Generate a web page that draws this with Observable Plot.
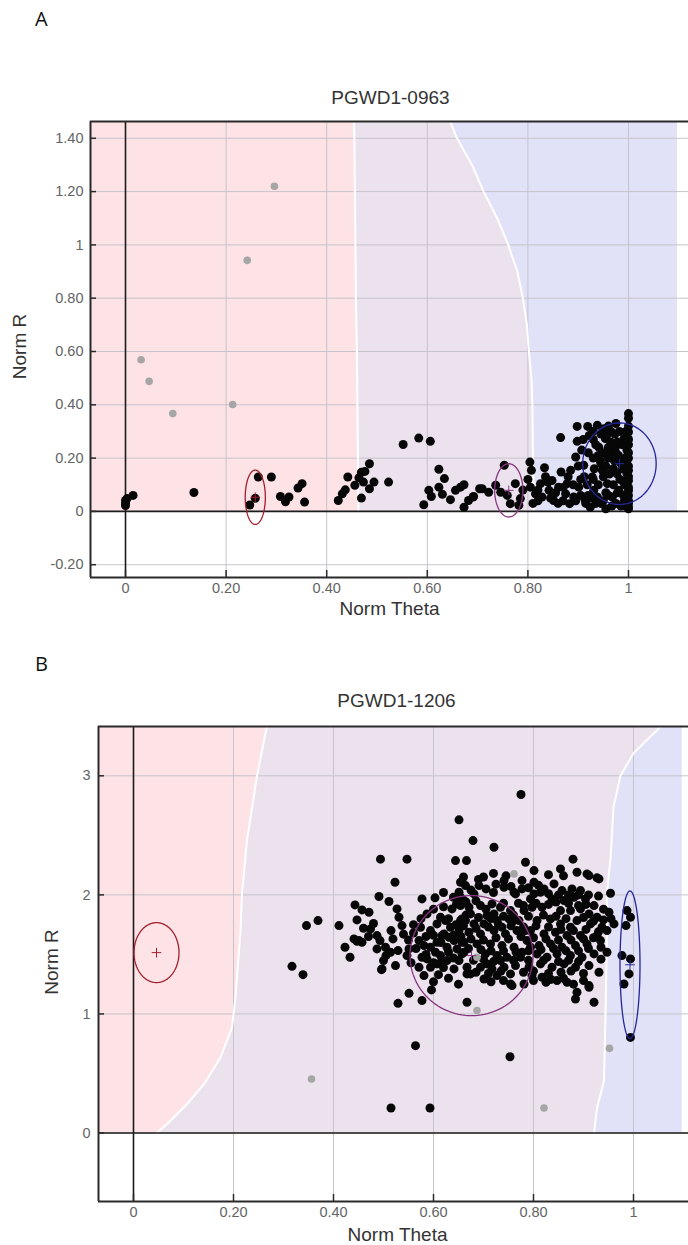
<!DOCTYPE html>
<html>
<head>
<meta charset="utf-8">
<script src="https://cdn.jsdelivr.net/npm/d3@7"></script>
<script src="https://cdn.jsdelivr.net/npm/@observablehq/plot@0.6"></script>
<style>
  body { margin: 0; background: #fff; }
  #page { position: relative; width: 688px; height: 1245px; overflow: hidden; background: #fff; }
  .panel-tag { position: absolute; font-family: "Open Sans", "Noto Sans", sans-serif; font-size: 20px; line-height: 20px; color: #111; }
  .chart { position: absolute; left: 0; }
</style>
</head>
<body>
<div id="page">
  <div class="panel-tag" style="left:35px; top:9px;">A</div>
  <div class="panel-tag" style="left:35px; top:654px;">B</div>
  <div id="chartA" class="chart" style="top:70px;"></div>
  <div id="chartB" class="chart" style="top:680px;"></div>
</div>
<script>
// ---------- shared axis ticks ----------
const xTickValues = [0, 0.2, 0.4, 0.6, 0.8, 1];
const xTickLabels = ["0", "0.20", "0.40", "0.60", "0.80", "1"];

// ---------- SNP PGWD1-0963 ----------
const titleA = "PGWD1-0963";
const yTickValuesA = [-0.2, 0, 0.2, 0.4, 0.6, 0.8, 1, 1.2, 1.4];
const yTickLabelsA = ["-0.20", "0", "0.20", "0.40", "0.60", "0.80", "1", "1.20", "1.40"];

// called samples [Norm Theta, Norm R]
const callsA = [
  [0, 0.029], [0, 0.041], [0.003, 0.048], [0.015, 0.06], [0, 0.022], [0.136, 0.071],
  [0.247, 0.024], [0.258, 0.049], [0.264, 0.129], [0.29, 0.129], [0.308, 0.056], [0.318, 0.036],
  [0.325, 0.054], [0.343, 0.088], [0.351, 0.104], [0.356, 0.035], [0.423, 0.041], [0.431, 0.066],
  [0.437, 0.081], [0.442, 0.129], [0.456, 0.098], [0.464, 0.126], [0.469, 0.147], [0.476, 0.15],
  [0.485, 0.179], [0.473, 0.11], [0.485, 0.085], [0.494, 0.11], [0.469, 0.05], [0.523, 0.11],
  [0.552, 0.251], [0.583, 0.275], [0.606, 0.263], [0.623, 0.158], [0.634, 0.123], [0.603, 0.079],
  [0.608, 0.056], [0.593, 0.025], [0.623, 0.091], [0.63, 0.064], [0.646, 0.044], [0.656, 0.079],
  [0.666, 0.091], [0.673, 0.1], [0.692, 0.056], [0.682, 0.041], [0.673, 0.016], [0.704, 0.085],
  [0.691, 0.054], [0.709, 0.085], [0.722, 0.072], [0.736, 0.098], [0.753, 0.173], [0.746, 0.072],
  [0.759, 0.06], [0.765, 0.029], [0.775, 0.104], [0.785, 0.048], [0.782, 0.023], [0.804, 0.185],
  [0.807, 0.154], [0.805, 0.091], [0.815, 0.066], [0.825, 0.104], [0.833, 0.164], [0.828, 0.054],
  [0.842, 0.079], [0.848, 0.116], [0.851, 0.041], [0.865, 0.277], [0.866, 0.148], [0.861, 0.091],
  [0.875, 0.066], [0.878, 0.104], [0.885, 0.154], [0.883, 0.029], [0.891, 0.054], [0.895, 0.204],
  [0.898, 0.319], [0.898, 0.263], [0.901, 0.091], [0.911, 0.173], [0.914, 0.041], [0.919, 0.319],
  [0.922, 0.285], [0.928, 0.129], [0.931, 0.079], [0.924, 0.016], [0.938, 0.323], [0.941, 0.241],
  [0.944, 0.191], [0.948, 0.154], [0.938, 0.054], [0.951, 0.31], [0.954, 0.273], [0.958, 0.104],
  [0.964, 0.217], [0.968, 0.054], [0.974, 0.241], [0.977, 0.141], [0.981, 0.079], [0.987, 0.191],
  [0.991, 0.273], [0.992, 0.041], [0.997, 0.229], [1, 0.367], [1, 0.298], [1, 0.154],
  [1, 0.079], [1, 0.016], [1, 0.116], [1, 0.2], [1, 0.25], [1, 0.04],
  [0.93, 0.2], [0.935, 0.25], [0.94, 0.1], [0.945, 0.03], [0.95, 0.22], [0.955, 0.17],
  [0.96, 0.06], [0.962, 0.14], [0.965, 0.3], [0.97, 0.1], [0.972, 0.19], [0.975, 0.03],
  [0.978, 0.26], [0.98, 0.21], [0.983, 0.12], [0.985, 0.02], [0.988, 0.16], [0.99, 0.06],
  [0.993, 0.1], [0.995, 0.3], [1, 0.01], [1, 0.03], [1, 0.06], [1, 0.09], [1, 0.13],
  [1, 0.17], [1, 0.22], [1, 0.27], [1, 0.32], [0.998, 0.05], [0.996, 0.18], [0.925, 0.05],
  [0.932, 0.16], [0.918, 0.1], [0.912, 0.13], [0.905, 0.06], [0.955, 0.01], [0.96, 0.24],
  [0.945, 0.29], [0.929, 0.3], [0.907, 0.23], [0.87, 0.04], [0.855, 0.07], [0.84, 0.11],
  [0.82, 0.08], [0.81, 0.03], [0.79, 0.08], [0.8, 0.12],
  [0.93, 0.27], [0.94, 0.21], [0.95, 0.13], [0.955, 0.07], [0.96, 0.2], [0.965, 0.26],
  [0.97, 0.16], [0.975, 0.22], [0.978, 0.07], [0.982, 0.3], [0.985, 0.18], [0.988, 0.25],
  [0.99, 0.11], [0.993, 0.2], [0.995, 0.02], [0.997, 0.14], [0.999, 0.27], [1, 0.35],
  [0.93, 0.12], [0.935, 0.03], [0.945, 0.18], [0.95, 0.04], [0.958, 0.29], [0.967, 0.02],
  [0.973, 0.29], [0.92, 0.22], [0.91, 0.27], [0.915, 0.03], [0.92, 0.06], [0.905, 0.12],
  [0.895, 0.04], [0.89, 0.1], [0.88, 0.13], [0.87, 0.09], [0.86, 0.03], [0.845, 0.05],
  [0.835, 0.13], [0.82, 0.04], [0.9, 0.17], [0.96, 0.32], [0.975, 0.33]
];
// no-call samples
const noCallsA = [[0.296, 1.22], [0.242, 0.942], [0.031, 0.569], [0.047, 0.488], [0.094, 0.367], [0.213, 0.401]];
// cluster ellipses (AA, AB, BB)
const clustersA = [
  {cx: 0.258, cy: 0.053, rx: 0.02, ry: 0.102, color: "#a3202e"},
  {cx: 0.762, cy: 0.079, rx: 0.028, ry: 0.1, color: "#86357f"},
  {cx: 0.982, cy: 0.179, rx: 0.073, ry: 0.153, color: "#26269a"}
];
// genotype region boundaries [theta, R]
const aaEdgeA = [[0.463, 0], [0.462, 0.2], [0.461, 0.4], [0.46, 0.6], [0.458, 0.8], [0.457, 1.0], [0.456, 1.2], [0.455, 1.4], [0.454, 1.47]];
const bbEdgeA = [[0.812, 0], [0.81, 0.2], [0.809, 0.4], [0.807, 0.5], [0.802, 0.6], [0.798, 0.7], [0.79, 0.8], [0.779, 0.9],
  [0.761, 1.0], [0.739, 1.1], [0.712, 1.2], [0.689, 1.3], [0.659, 1.4], [0.644, 1.47]];

// ---------- SNP PGWD1-1206 ----------
const titleB = "PGWD1-1206";
const yTickValuesB = [0, 1, 2, 3];
const yTickLabelsB = ["0", "1", "2", "3"];

const callsB = [
  [0.775, 2.843], [0.651, 2.63], [0.679, 2.456], [0.721, 2.4], [0.494, 2.3], [0.547, 2.3],
  [0.644, 2.288], [0.666, 2.288], [0.523, 2.106], [0.491, 1.986], [0.511, 1.944], [0.577, 1.966],
  [0.603, 1.975], [0.784, 2.274], [0.879, 2.3], [0.854, 2.218], [0.887, 2.19], [0.907, 2.176],
  [0.927, 2.143], [0.954, 2.014], [0.801, 2.204], [0.741, 2.12], [0.777, 2.12],
  [0.443, 1.916], [0.457, 1.874], [0.471, 1.854], [0.447, 1.79], [0.527, 1.882], [0.531, 1.812],
  [0.537, 1.742], [0.346, 1.742], [0.369, 1.784], [0.411, 1.742], [0.474, 1.714], [0.487, 1.658],
  [0.493, 1.616], [0.441, 1.63], [0.447, 1.61], [0.457, 1.602], [0.423, 1.56], [0.433, 1.476],
  [0.487, 1.546], [0.504, 1.56], [0.519, 1.63], [0.514, 1.518], [0.529, 1.532], [0.5, 1.448],
  [0.524, 1.406], [0.496, 1.372], [0.317, 1.4], [0.339, 1.33], [0.551, 1.546], [0.547, 1.49],
  [0.587, 1.84], [0.574, 1.728], [0.571, 1.616], [0.581, 1.574], [0.577, 1.476], [0.571, 1.392],
  [0.581, 1.322], [0.551, 1.173], [0.529, 1.089], [0.577, 1.112], [0.596, 1.202], [0.564, 0.734],
  [0.614, 1.812], [0.624, 1.784], [0.634, 1.728], [0.637, 1.882], [0.646, 1.924], [0.654, 2.106],
  [0.651, 2.022], [0.661, 1.952], [0.621, 1.672], [0.607, 1.602], [0.594, 1.56], [0.604, 1.518],
  [0.614, 1.49], [0.627, 1.56], [0.641, 1.616], [0.647, 1.546], [0.627, 1.448], [0.641, 1.378],
  [0.617, 1.448], [0.661, 1.518], [0.664, 1.784], [0.667, 1.336], [0.667, 1.098],
  [0.594, 1.7], [0.607, 1.756], [0.617, 1.658], [0.631, 1.644], [0.651, 1.7], [0.657, 1.602],
  [0.651, 1.448], [0.607, 1.42], [0.587, 1.462], [0.594, 1.392],
  [0.911, 2.162], [0.931, 2.134], [0.801, 2.106], [0.741, 2.064], [0.777, 2.05], [0.821, 2.05],
  [0.841, 2.092], [0.857, 2.036], [0.877, 2.05], [0.894, 2.036], [0.664, 2.078], [0.691, 2.078],
  [0.681, 2.008], [0.654, 1.98], [0.764, 2.008], [0.794, 1.966], [0.814, 2.022], [0.837, 1.966],
  [0.861, 1.952], [0.881, 1.98], [0.904, 1.966], [0.921, 1.91], [0.654, 1.91], [0.671, 1.896],
  [0.694, 1.91], [0.717, 1.924], [0.734, 1.896], [0.754, 1.868], [0.797, 1.896], [0.817, 1.896],
  [0.854, 1.868], [0.874, 1.868], [0.894, 1.882], [0.911, 1.84], [0.927, 1.812], [0.951, 1.854],
  [0.961, 1.756], [0.937, 1.728], [0.657, 1.798], [0.681, 1.756], [0.707, 1.826], [0.727, 1.784],
  [0.751, 1.798], [0.771, 1.784], [0.807, 1.784], [0.834, 1.798], [0.854, 1.756], [0.874, 1.728],
  [0.887, 1.784], [0.914, 1.756], [0.671, 1.686], [0.694, 1.672], [0.721, 1.7], [0.744, 1.672],
  [0.767, 1.7], [0.794, 1.7], [0.821, 1.672], [0.844, 1.686], [0.867, 1.658], [0.894, 1.658],
  [0.927, 1.658], [0.947, 1.7], [0.661, 1.602], [0.687, 1.588], [0.714, 1.588], [0.737, 1.574],
  [0.761, 1.56], [0.787, 1.616], [0.811, 1.574], [0.834, 1.588], [0.857, 1.56], [0.884, 1.574],
  [0.907, 1.588], [0.934, 1.616], [0.704, 1.504], [0.727, 1.49], [0.747, 1.476], [0.774, 1.476],
  [0.807, 1.504], [0.827, 1.476], [0.847, 1.504], [0.874, 1.49], [0.897, 1.476], [0.921, 1.504],
  [0.947, 1.518], [0.657, 1.504], [0.667, 1.392], [0.694, 1.392], [0.717, 1.378], [0.741, 1.392],
  [0.764, 1.406], [0.814, 1.42], [0.837, 1.392], [0.861, 1.42], [0.884, 1.392], [0.911, 1.406],
  [0.931, 1.35], [0.674, 1.336], [0.701, 1.294], [0.727, 1.322], [0.817, 1.308], [0.825, 1.266],
  [0.847, 1.28], [0.867, 1.266], [0.754, 1.252], [0.781, 1.252], [0.887, 1.182], [0.884, 1.126],
  [0.911, 1.238], [0.921, 1.098],
  [0.987, 1.868], [0.994, 1.812], [0.985, 1.742], [0.977, 1.49], [0.994, 1.462], [0.991, 1.336],
  [0.981, 1.252], [0.994, 0.803],
  [0.753, 0.641], [0.515, 0.21], [0.593, 0.21],
  [0.451, 1.616], [0.497, 1.378], [0.757, 1.238], [0.911, 1.224],
  [0.654, 1.784], [0.674, 1.84], [0.701, 1.756], [0.721, 1.84], [0.737, 1.728], [0.761, 1.784],
  [0.781, 1.868], [0.784, 1.7], [0.734, 1.448], [0.707, 1.42], [0.754, 1.336], [0.791, 1.392],
  [0.797, 1.322], [0.777, 1.518], [0.794, 1.56], [0.761, 2.022], [0.801, 2.008],
  [0.7, 2.15], [0.72, 2.18], [0.745, 2.16], [0.83, 2.17], [0.86, 2.16], [0.69, 2.13],
  [0.705, 2.05], [0.725, 2.09], [0.755, 2.07], [0.79, 2.06], [0.81, 2.08], [0.83, 2.01],
  [0.85, 2.0], [0.87, 2.0], [0.89, 2.0], [0.91, 2.0], [0.93, 1.99], [0.72, 2.02], [0.675, 2.04],
  [0.665, 1.94], [0.685, 1.95], [0.705, 1.88], [0.74, 1.93], [0.77, 1.93], [0.78, 1.91],
  [0.805, 1.93], [0.83, 1.92], [0.845, 1.94], [0.87, 1.93], [0.89, 1.91], [0.905, 1.92], [0.94, 1.88],
  [0.665, 1.83], [0.69, 1.81], [0.715, 1.8], [0.74, 1.82], [0.76, 1.83], [0.79, 1.82],
  [0.82, 1.83], [0.845, 1.82], [0.865, 1.8], [0.9, 1.81], [0.92, 1.78], [0.94, 1.79], [0.955, 1.8],
  [0.66, 1.74], [0.685, 1.72], [0.71, 1.73], [0.73, 1.75], [0.755, 1.74], [0.78, 1.73],
  [0.805, 1.74], [0.83, 1.73], [0.855, 1.71], [0.88, 1.7], [0.905, 1.71], [0.93, 1.69],
  [0.675, 1.63], [0.7, 1.62], [0.725, 1.64], [0.75, 1.63], [0.775, 1.65], [0.8, 1.64],
  [0.825, 1.63], [0.85, 1.62], [0.875, 1.62], [0.9, 1.63], [0.92, 1.64],
  [0.67, 1.55], [0.695, 1.54], [0.715, 1.53], [0.74, 1.53], [0.765, 1.52], [0.79, 1.53],
  [0.815, 1.54], [0.84, 1.55], [0.865, 1.53], [0.89, 1.53], [0.91, 1.55], [0.935, 1.56],
  [0.68, 1.45], [0.7, 1.46], [0.72, 1.44], [0.76, 1.45], [0.79, 1.45], [0.82, 1.45],
  [0.85, 1.44], [0.87, 1.45], [0.89, 1.44], [0.935, 1.46],
  [0.685, 1.35], [0.71, 1.34], [0.735, 1.36], [0.78, 1.35], [0.8, 1.36], [0.83, 1.34],
  [0.855, 1.35], [0.875, 1.36], [0.9, 1.34],
  [0.715, 1.27], [0.74, 1.28], [0.8, 1.28], [0.835, 1.29], [0.86, 1.3], [0.88, 1.25], [0.9, 1.28],
  [0.55, 1.62], [0.56, 1.68], [0.565, 1.55], [0.555, 1.43], [0.585, 1.65], [0.6, 1.66],
  [0.615, 1.6], [0.63, 1.52], [0.64, 1.47], [0.62, 1.39], [0.6, 1.43], [0.585, 1.5],
  [0.56, 1.75], [0.575, 1.8], [0.6, 1.88], [0.62, 1.9], [0.63, 1.8], [0.645, 1.75],
  [0.64, 1.66], [0.655, 1.65], [0.61, 1.33], [0.63, 1.3], [0.65, 1.25], [0.6, 1.27],
  [0.505, 1.49], [0.47, 1.65], [0.48, 1.76], [0.54, 1.67], [0.515, 1.7], [0.46, 1.72],
  [0.64, 1.98], [0.62, 2.02], [0.66, 2.15]
];
const noCallsB = [[0.761, 2.176], [0.687, 1.476], [0.687, 1.028], [0.821, 0.21], [0.952, 0.711], [0.356, 0.454]];
const clustersB = [
  {cx: 0.046, cy: 1.515, rx: 0.045, ry: 0.252, color: "#a3202e"},
  {cx: 0.676, cy: 1.49, rx: 0.123, ry: 0.504, color: "#86357f"},
  {cx: 0.993, cy: 1.413, rx: 0.02, ry: 0.62, color: "#26269a"}
];
const aaEdgeB = [[0.047, 0], [0.067, 0.076], [0.107, 0.244], [0.141, 0.41], [0.174, 0.635], [0.197, 0.887],
  [0.204, 1.14], [0.214, 1.7], [0.217, 2.02], [0.227, 2.46], [0.247, 3.0], [0.267, 3.42]];
const bbEdgeB = [[0.921, 0], [0.927, 0.21], [0.941, 0.44], [0.944, 1.0], [0.947, 1.7], [0.947, 2.03],
  [0.954, 2.3], [0.96, 2.74], [0.974, 3.0], [1.0, 3.19], [1.056, 3.42]];

// ---------- drawing ----------
const FONT = "'Liberation Sans', Arial, sans-serif";
const AA_FILL = "#fde2e6", AB_FILL = "#ece2ee", BB_FILL = "#e1e1f8";
const GRID = "#c6c4ca", INK = "#1c1c1c";

function clusterPlot(cfg) {
  const {width, height, marginTop, marginBottom, marginLeft, xDomain, yDomain, regionRight,
    yTickValues, yTickLabels, tickPadY} = cfg;
  const plotW = width - marginLeft;
  const plotH = height - marginTop - marginBottom;
  const xPerPx = (xDomain[1] - xDomain[0]) / plotW;
  const yPerPx = (yDomain[1] - yDomain[0]) / plotH;

  const aaEdge = cfg.aaEdge.map(([x, y]) => ({x, y, left: xDomain[0]}));
  const bbEdge = cfg.bbEdge.map(([x, y]) => ({x, y, right: regionRight}));
  const plane = [{x1: xDomain[0], x2: regionRight, y1: 0, y2: yDomain[1]}];

  const ellipseMarks = cfg.clusters.flatMap((c) => {
    const ring = d3.range(0, 361, 3).map((a) => ({
      x: c.cx + c.rx * Math.cos((a * Math.PI) / 180),
      y: c.cy + c.ry * Math.sin((a * Math.PI) / 180)
    }));
    return [
      Plot.line(ring, {x: "x", y: "y", stroke: c.color, strokeWidth: 1.3}),
      Plot.dot([c], {x: "cx", y: "cy", symbol: "plus", r: 3.2, stroke: c.color, strokeWidth: 1, fill: "none"})
    ];
  });

  return Plot.plot({
    width, height, marginTop, marginBottom, marginLeft, marginRight: 0,
    x: {domain: xDomain},
    y: {domain: yDomain},
    style: {fontFamily: FONT, fontSize: "14.5px", background: "transparent", overflow: "visible"},
    marks: [
      // genotype regions
      Plot.rect(plane, {x1: "x1", x2: "x2", y1: "y1", y2: "y2", fill: AB_FILL}),
      Plot.areaX(aaEdge, {y: "y", x1: "left", x2: "x", fill: AA_FILL, clip: true}),
      Plot.areaX(bbEdge, {y: "y", x1: "x", x2: "right", fill: BB_FILL, clip: true}),
      // grid
      Plot.ruleX(xTickValues, {stroke: GRID, strokeWidth: 1}),
      Plot.ruleY(yTickValues, {stroke: GRID, strokeWidth: 1}),
      // region borders
      Plot.line(aaEdge, {x: "x", y: "y", stroke: "#fff", strokeWidth: 2, clip: true}),
      Plot.line(bbEdge, {x: "x", y: "y", stroke: "#fff", strokeWidth: 2, clip: true}),
      // zero axes
      Plot.ruleX([0], {stroke: INK, strokeWidth: 1.6}),
      Plot.ruleY([0], {stroke: INK, strokeWidth: 1.6}),
      // frame (top, bottom, left)
      Plot.ruleY([yDomain[1], yDomain[0]], {stroke: "#2a2a2a", strokeWidth: 2}),
      Plot.ruleX([xDomain[0]], {stroke: "#2a2a2a", strokeWidth: 2}),
      // inward tick marks
      Plot.ruleX(xTickValues, {y1: yDomain[0], y2: yDomain[0] + 7 * yPerPx, stroke: "#2a2a2a", strokeWidth: 1.5}),
      Plot.ruleY(yTickValues, {x1: xDomain[0], x2: xDomain[0] + 6 * xPerPx, stroke: "#2a2a2a", strokeWidth: 1.5}),
      // samples
      Plot.dot(cfg.calls, {x: (d) => d[0], y: (d) => d[1], r: 4.5, fill: "#070707"}),
      Plot.dot(cfg.noCalls, {x: (d) => d[0], y: (d) => d[1], r: 3.8, fill: "#a6a6a6"}),
      ...ellipseMarks,
      // tick labels
      Plot.axisX({ticks: xTickValues, tickFormat: (d) => xTickLabels[xTickValues.indexOf(d)],
        tickSize: 0, tickPadding: 5, label: null, fontSize: 14.5, color: "#646464"}),
      Plot.axisY({ticks: yTickValues, tickFormat: (d) => yTickLabels[yTickValues.indexOf(d)],
        tickSize: 0, tickPadding: tickPadY, label: null, fontSize: 14.5, color: "#646464"}),
      // titles
      Plot.text([cfg.title], {text: (d) => d, frameAnchor: "top", dx: cfg.titleDx, dy: cfg.titleDy,
        lineAnchor: "middle", fontSize: 19, fill: "#333"}),
      Plot.text(["Norm Theta"], {text: (d) => d, frameAnchor: "bottom", dx: cfg.xLabelDx, dy: cfg.xLabelDy,
        lineAnchor: "middle", fontSize: 19, fill: "#333"}),
      Plot.text(["Norm R"], {text: (d) => d, frameAnchor: "left", rotate: -90, dx: cfg.yLabelDx, dy: cfg.yLabelDy,
        lineAnchor: "middle", textAnchor: "middle", fontSize: 19, fill: "#333"})
    ]
  });
}

document.getElementById("chartA").append(clusterPlot({
  title: titleA, calls: callsA, noCalls: noCallsA, clusters: clustersA,
  aaEdge: aaEdgeA, bbEdge: bbEdgeA,
  width: 688, height: 560, marginTop: 51, marginBottom: 53, marginLeft: 90,
  xDomain: [-0.0696, 1.1193], yDomain: [-0.248, 1.463], regionRight: 1.097,
  yTickValues: yTickValuesA, yTickLabels: yTickLabelsA, tickPadY: 7,
  titleDx: 1, titleDy: -24, xLabelDx: 0, xLabelDy: 31, yLabelDx: -70.5, yLabelDy: -3
}));

document.getElementById("chartB").append(clusterPlot({
  title: titleB, calls: callsB, noCalls: noCallsB, clusters: clustersB,
  aaEdge: aaEdgeB, bbEdge: bbEdgeB,
  width: 688, height: 565, marginTop: 46, marginBottom: 44, marginLeft: 98,
  xDomain: [-0.07, 1.11], yDomain: [-0.575, 3.414], regionRight: 1.097,
  yTickValues: yTickValuesB, yTickLabels: yTickLabelsB, tickPadY: 8,
  titleDx: 3, titleDy: -25.5, xLabelDx: 4, xLabelDy: 33, yLabelDx: -46.5, yLabelDy: -2
}));
</script>
</body>
</html>
